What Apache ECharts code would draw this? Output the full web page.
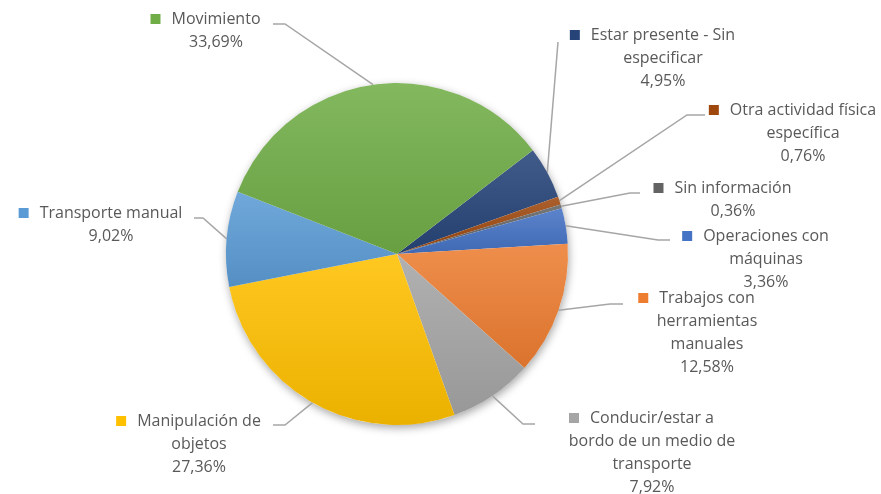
<!DOCTYPE html>
<html>
<head>
<meta charset="utf-8">
<script src="https://cdn.jsdelivr.net/npm/echarts@6/dist/echarts.min.js"></script>
<style>
  html, body { margin: 0; padding: 0; background: #ffffff; }
  #chart { width: 881px; height: 494px; }
</style>
</head>
<body>
<div id="chart"></div>
<script>
// Forma o contexto de la actividad física específica (% del total)
const categories = [
  'Estar presente - Sin especificar',
  'Otra actividad física específica',
  'Sin información',
  'Operaciones con máquinas',
  'Trabajos con herramientas manuales',
  'Conducir/estar a bordo de un medio de transporte',
  'Manipulación de objetos',
  'Transporte manual',
  'Movimiento'
];
const shares = [4.95, 0.76, 0.36, 3.36, 12.58, 7.92, 27.36, 9.02, 33.69];

// wrapped label text, one entry per category
const labelText = [
  ['Estar presente - Sin', 'especificar'],
  ['Otra actividad física', 'específica'],
  ['Sin información'],
  ['Operaciones con', 'máquinas'],
  ['Trabajos con', 'herramientas', 'manuales'],
  ['Conducir/estar a', 'bordo de un medio de', 'transporte'],
  ['Manipulación de', 'objetos'],
  ['Transporte manual'],
  ['Movimiento']
];

const colors = ['#264478', '#9E480E', '#636363', '#4472C4', '#ED7D31',
                '#A5A5A5', '#FFC000', '#5B9BD5', '#70AD47'];

// label block: centre x, top y; leader line: elbow and end points
const placement = [
  { x: 663, y: 23.5,  elbow: [558, 42],  end: [558, 42] },
  { x: 803, y: 98.5,  elbow: [687, 115], end: [705, 115] },
  { x: 733, y: 176.5, elbow: [630, 193], end: [640, 193] },
  { x: 766, y: 224.5, elbow: [658, 240], end: [670, 240] },
  { x: 707, y: 286.5, elbow: [610, 304], end: [623, 304] },
  { x: 652, y: 406.5, elbow: [523, 424], end: [535, 424] },
  { x: 199, y: 409.5, elbow: [285, 425], end: [273, 425] },
  { x: 111, y: 201.5, elbow: [203, 218], end: [194, 218] },
  { x: 216, y: 7.5,   elbow: [285, 24],  end: [273, 24] }
];

function mix(hex, target, t) {
  const n = parseInt(hex.slice(1), 16);
  const c = [(n >> 16) & 255, (n >> 8) & 255, n & 255];
  const r = c.map(v => Math.round(v + (target - v) * t));
  return 'rgb(' + r.join(',') + ')';
}

const fmtPct = v => v.toFixed(2).replace('.', ',') + '%';

const rich = {
  g: { width: 11 },
  p: { width: 21 },
  t: { color: '#595959', fontSize: 16, fontFamily: 'Open Sans', lineHeight: 23 }
};
colors.forEach((c, i) => {
  rich['m' + i] = { width: 10, height: 10, backgroundColor: c };
});

const chart = echarts.init(document.getElementById('chart'), null, { renderer: 'canvas' });

const center = [397, 254];
const radius = 171;

chart.setOption({
  animation: false,
  backgroundColor: '#ffffff',
  series: [
    {
      // soft shadow beneath the pie
      type: 'pie',
      silent: true,
      z: 1,
      center: center,
      radius: radius,
      label: { show: false },
      labelLine: { show: false },
      itemStyle: {
        color: '#ffffff',
        shadowBlur: 9,
        shadowColor: 'rgba(0,0,0,0.35)',
        shadowOffsetX: 1,
        shadowOffsetY: 3
      },
      data: [{ value: shares.reduce((a, b) => a + b, 0), name: '' }]
    },
    {
      type: 'pie',
      z: 2,
      center: center,
      radius: radius,
      startAngle: 37.4,
      clockwise: true,
      avoidLabelOverlap: false,
      data: categories.map((name, i) => ({
        name: name,
        value: shares[i],
        itemStyle: {
          color: new echarts.graphic.LinearGradient(0, 0, 0, 1, [
            { offset: 0, color: mix(colors[i], 255, 0.13) },
            { offset: 1, color: mix(colors[i], 0, 0.08) }
          ])
        }
      })),
      label: {
        show: true,
        position: 'outside',
        align: 'center',
        rich: rich,
        formatter: p => {
          const lines = labelText[p.dataIndex];
          const first = '{m' + p.dataIndex + '|}{g|}{t|' + lines[0] + '}{p|}';
          const rest = lines.slice(1).map(s => '{t|' + s + '}');
          return [first].concat(rest, ['{t|' + fmtPct(p.value) + '}']).join('\n');
        }
      },
      labelLine: {
        show: true,
        lineStyle: { color: '#A6A6A6', width: 1.5 }
      },
      labelLayout: params => {
        const pl = placement[params.dataIndex];
        const start = params.labelLinePoints ? params.labelLinePoints[0] : pl.elbow;
        return {
          x: pl.x,
          y: pl.y,
          align: 'center',
          verticalAlign: 'top',
          labelLinePoints: [start, pl.elbow, pl.end]
        };
      },
      emphasis: { disabled: true }
    }
  ]
});
</script>
</body>
</html>
